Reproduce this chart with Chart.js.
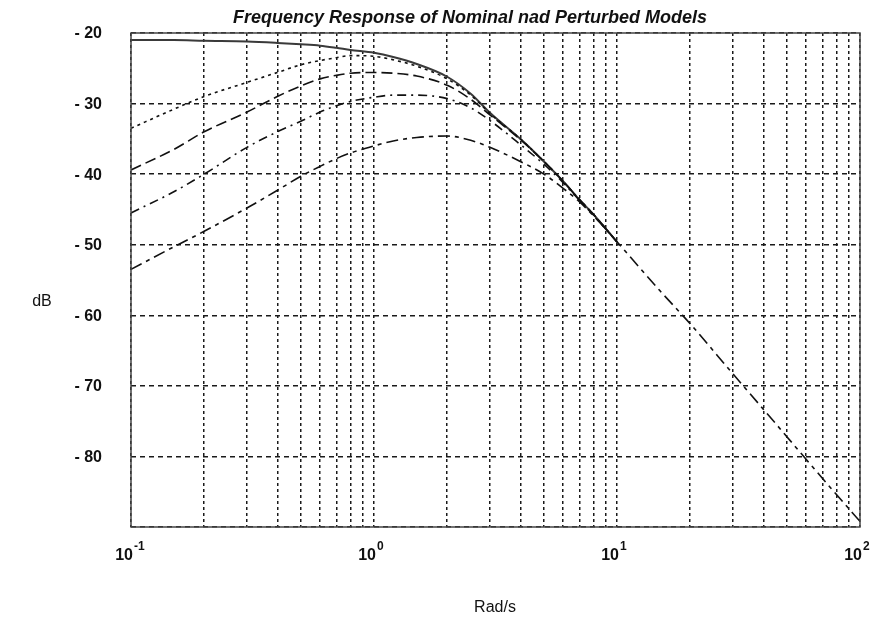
<!DOCTYPE html>
<html lang="en">
<head>
    <meta charset="UTF-8">
    <title>Frequency Response of Nominal nad Perturbed Models</title>
    <script src="https://cdn.jsdelivr.net/npm/chart.js"></script>
    <style>
        html, body {
            margin: 0;
            padding: 0;
            background: #fff;
        }
        #wrap {
            width: 878px;
            height: 621px;
        }
    </style>
</head>
<body>
    <div id="wrap">
        <canvas id="bode" width="878" height="621"></canvas>
    </div>

    <script>
        // frequencies (rad/s) where the curves were read
        const freq = [0.1, 0.15, 0.2, 0.3, 0.4, 0.5, 0.6, 0.7, 0.8, 1, 1.2, 1.5, 2, 2.5, 3, 4, 5, 6, 7, 8, 10];
        const freqHigh = [15, 20, 30, 40, 50, 60, 80, 100];

        // magnitude in dB
        const nominal = [-21.0, -21.0, -21.1, -21.2, -21.4, -21.6, -21.8, -22.1, -22.4, -22.8, -23.4, -24.4, -26.2, -28.6, -31.3, -35.0, -38.2, -41.0, -43.6, -45.7, -49.6];
        const pert1 = [-33.5, -30.8, -29.0, -27.0, -25.6, -24.5, -23.9, -23.5, -23.2, -23.3, -23.8, -24.7, -26.5, -28.8, -31.4, -35.0, -38.2, -41.0, -43.6, -45.7, -49.6];
        const pert2 = [-39.4, -36.5, -34.0, -31.2, -29.0, -27.5, -26.5, -26.0, -25.7, -25.6, -25.7, -26.1, -27.4, -29.4, -31.6, -35.1, -38.2, -41.0, -43.6, -45.7, -49.6];
        const pert3 = [-45.5, -42.5, -40.0, -36.2, -34.0, -32.5, -31.2, -30.3, -29.7, -29.1, -28.8, -28.8, -29.3, -30.6, -32.4, -35.8, -38.6, -41.2, -43.7, -45.8, -49.6];
        const pert4 = [-53.5, -50.3, -48.1, -44.8, -42.3, -40.3, -38.9, -37.8, -37.0, -36.0, -35.3, -34.8, -34.6, -35.2, -36.2, -38.2, -40.0, -42.0, -43.9, -45.9, -49.6];
        const pert4High = [-56.5, -61.2, -68.3, -73.3, -77.2, -80.4, -85.4, -89.2];

        // x labels are 10 raised to these powers
        const decades = [0.1, 1, 10, 100];
        const decadeExp = ['-1', '0', '1', '2'];
        const yTicks = [-20, -30, -40, -50, -60, -70, -80];
        const yTickLabels = ['- 20', '- 30', '- 40', '- 50', '- 60', '- 70', '- 80'];

        const titleText = 'Frequency Response of Nominal nad Perturbed Models';

        function pts(xs, ys) {
            return xs.map((x, i) => ({ x: x, y: ys[i] }));
        }

        // vertical grid: every 1..9 step inside each decade
        function logGrid() {
            const out = [];
            for (let d = 0; d < decades.length - 1; d++) {
                for (let k = 1; k < 10; k++) out.push(+(decades[d] * k).toPrecision(3));
            }
            out.push(decades[decades.length - 1]);
            return out;
        }

        const FONT = '"Liberation Sans", Arial, sans-serif';

        // plot frame, tick labels, title and axis names
        // (tick labels drawn here so their padding doesn't push the plot area down)
        const framePlugin = {
            id: 'frameText',
            afterDraw(chart) {
                const { ctx, chartArea: a } = chart;
                const xs = chart.scales.x;
                const ys = chart.scales.y;
                ctx.save();
                ctx.setLineDash([]);
                ctx.strokeStyle = '#444';
                ctx.lineWidth = 1.5;
                ctx.strokeRect(a.left, a.top, a.right - a.left, a.bottom - a.top);

                ctx.fillStyle = '#111';

                ctx.textBaseline = 'middle';
                ctx.textAlign = 'right';
                ctx.font = 'bold 16px ' + FONT;
                yTicks.forEach((v, i) => {
                    ctx.fillText(yTickLabels[i], 102, ys.getPixelForValue(v) + 1);
                });

                ctx.textBaseline = 'alphabetic';
                decades.forEach((d, i) => {
                    const px = xs.getPixelForValue(d);
                    ctx.textAlign = 'right';
                    ctx.font = 'bold 16px ' + FONT;
                    ctx.fillText('10', px + 2, 560);
                    ctx.textAlign = 'left';
                    ctx.font = 'bold 12px ' + FONT;
                    ctx.fillText(decadeExp[i], px + 3, 550);
                });

                ctx.textAlign = 'center';
                ctx.font = 'italic bold 18px ' + FONT;
                ctx.fillText(titleText, 470, 23);

                ctx.font = '16px ' + FONT;
                ctx.fillText('dB', 42, 306);
                ctx.fillText('Rad/s', 495, 612);
                ctx.restore();
            }
        };

        const lineBase = {
            pointRadius: 0,
            fill: false,
            cubicInterpolationMode: 'monotone',
            borderColor: '#111',
            borderWidth: 1.6
        };

        new Chart(document.getElementById('bode'), {
            type: 'line',
            data: {
                datasets: [
                    Object.assign({}, lineBase, { label: 'perturbed 1', data: pts(freq, pert1), borderDash: [3, 4] }),
                    Object.assign({}, lineBase, { label: 'perturbed 2', data: pts(freq, pert2), borderDash: [11, 5] }),
                    Object.assign({}, lineBase, { label: 'perturbed 3', data: pts(freq, pert3), borderDash: [9, 5, 2, 5] }),
                    Object.assign({}, lineBase, { label: 'perturbed 4', data: pts(freq.concat(freqHigh), pert4.concat(pert4High)), borderDash: [12, 5, 4, 5] }),
                    Object.assign({}, lineBase, { label: 'nominal', data: pts(freq, nominal), borderColor: '#3a3a3a', borderWidth: 2 })
                ]
            },
            options: {
                responsive: false,
                animation: false,
                layout: { autoPadding: false, padding: { top: 33, right: 18, left: 0, bottom: 0 } },
                plugins: {
                    legend: { display: false },
                    title: { display: false },
                    tooltip: { enabled: false }
                },
                scales: {
                    x: {
                        type: 'logarithmic',
                        min: 0.1,
                        max: 100,
                        afterBuildTicks: (scale) => {
                            scale.ticks = logGrid().map(v => ({ value: v }));
                        },
                        afterFit: (scale) => { scale.height = 94; },
                        grid: { color: '#1a1a1a', lineWidth: 1.5, drawTicks: false },
                        border: { display: false, dash: [3, 3] },
                        ticks: { display: false, autoSkip: false }
                    },
                    y: {
                        min: -90,
                        max: -20,
                        afterBuildTicks: (scale) => {
                            scale.ticks = yTicks.concat([-90]).map(v => ({ value: v }));
                        },
                        afterFit: (scale) => { scale.width = 131; },
                        grid: { color: '#1a1a1a', lineWidth: 1.5, drawTicks: false },
                        border: { display: false, dash: [5, 4] },
                        ticks: { display: false }
                    }
                }
            },
            plugins: [framePlugin]
        });
    </script>
</body>
</html>
